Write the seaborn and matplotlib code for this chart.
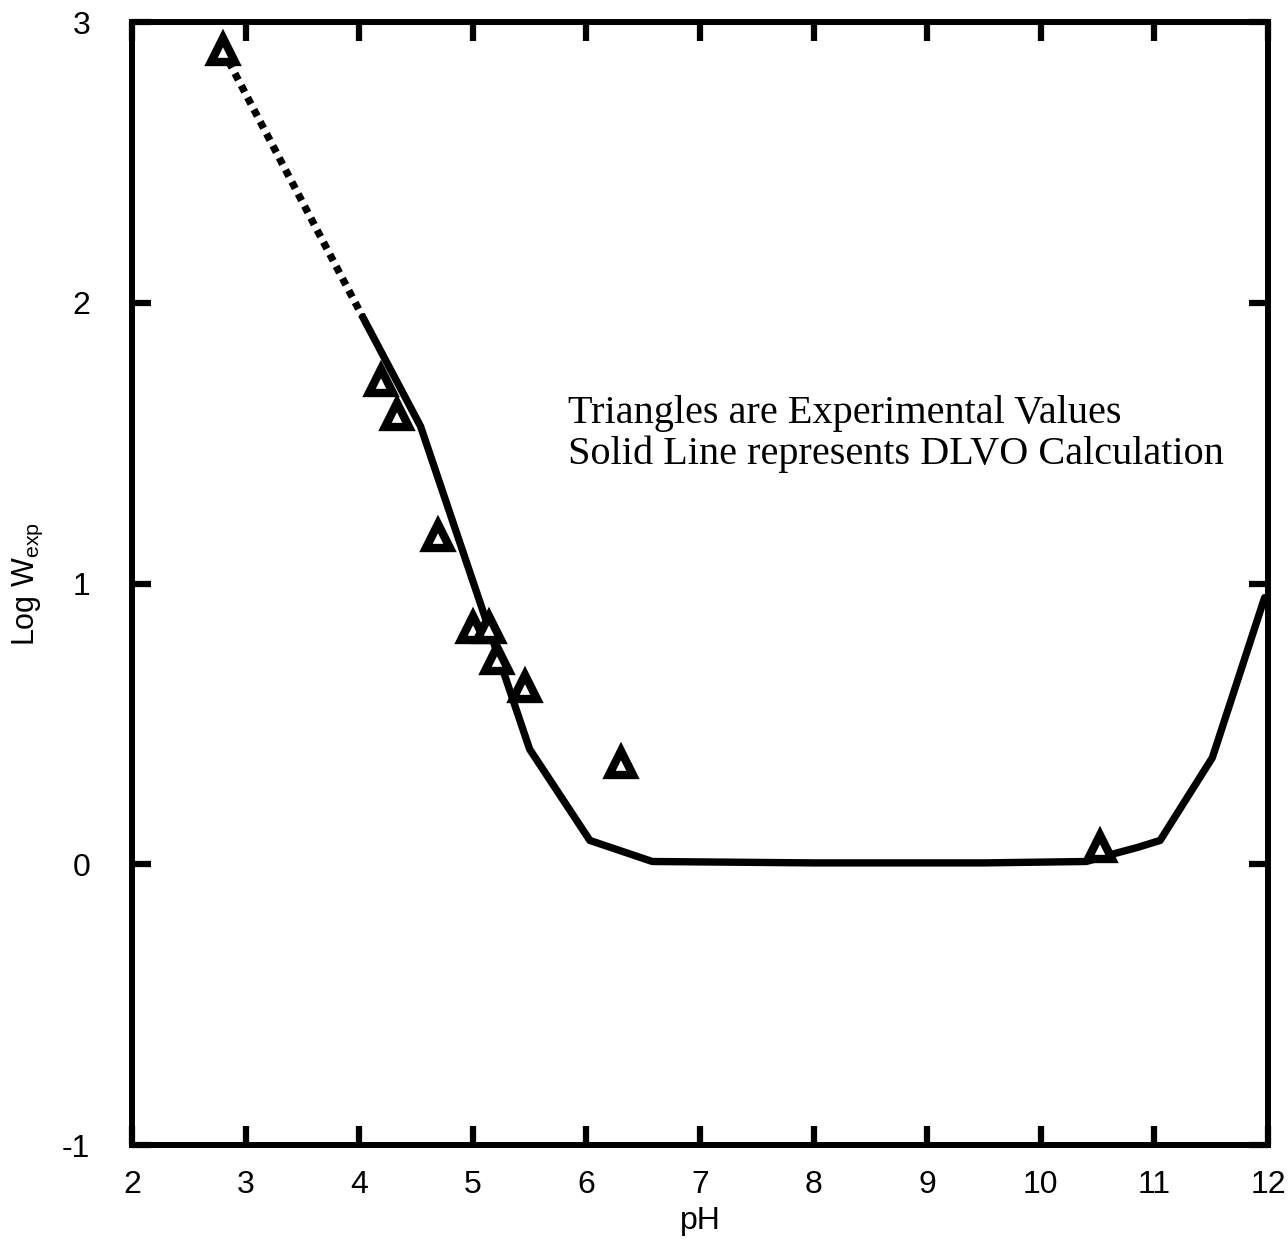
import matplotlib
matplotlib.use("Agg")
import matplotlib.pyplot as plt
import seaborn as sns
import pandas as pd

# Experimental values (triangles)
exp_ph = [2.80, 4.19, 4.33, 4.69, 5.00, 5.14, 5.21, 5.46, 6.30, 10.52]
exp_logw = [2.90, 1.72, 1.60, 1.17, 0.84, 0.84, 0.73, 0.63, 0.36, 0.06]

# DLVO calculation (solid line)
dlvo_ph = [4.03, 4.54, 5.50, 6.03, 6.58, 8.0, 9.5, 10.4, 10.62, 10.85, 11.05, 11.51, 11.97]
dlvo_logw = [1.95, 1.56, 0.41, 0.085, 0.01, 0.005, 0.005, 0.01, 0.035, 0.06, 0.085, 0.38, 0.95]

# Extrapolation (dotted line)
extr_ph = [2.85, 4.03]
extr_logw = [2.86, 1.95]

x_ticks = [2, 3, 4, 5, 6, 7, 8, 9, 10, 11, 12]
y_ticks = [-1, 0, 1, 2, 3]

sns.set_style("white")
plt.rcParams['font.family'] = ['Liberation Sans', 'DejaVu Sans']
plt.rcParams['mathtext.fontset'] = 'custom'
plt.rcParams['mathtext.rm'] = 'Liberation Sans'
plt.rcParams['text.color'] = 'black'
plt.rcParams['axes.labelcolor'] = 'black'

fig = plt.figure(figsize=(12.88, 12.59), dpi=100)
ax = fig.add_axes([0.1025, 0.0905, 0.882, 0.892])

df_line = pd.DataFrame({"pH": dlvo_ph, "logW": dlvo_logw})
df_extr = pd.DataFrame({"pH": extr_ph, "logW": extr_logw})
df_exp = pd.DataFrame({"pH": exp_ph, "logW": exp_logw})

sns.lineplot(data=df_line, x="pH", y="logW", ax=ax, color="black", linewidth=5.3,
             sort=False)
sns.lineplot(data=df_extr, x="pH", y="logW", ax=ax, color="black", linewidth=5.3,
             sort=False)
ax.lines[-1].set_linestyle((0, (1, 0.85)))
ax.lines[-1].set_dash_capstyle("butt")

ax.plot(df_exp["pH"], df_exp["logW"], linestyle="none", marker="^", markersize=17,
        markerfacecolor="white", markeredgecolor="black", markeredgewidth=6, zorder=5)

ax.set_xlim(2, 12)
ax.set_ylim(-1, 3)
ax.set_xticks(x_ticks)
ax.set_yticks(y_ticks)
ax.set_xticklabels([str(t) for t in x_ticks])
ax.set_yticklabels([str(t) for t in y_ticks])

for s in ax.spines.values():
    s.set_linewidth(4.3)
    s.set_color("black")

ax.tick_params(axis="both", which="major", direction="in", length=14, width=4.5,
               top=True, right=True, bottom=True, left=True, labelsize=23,
               colors="black", labelcolor="black")
ax.tick_params(axis="x", pad=18)
ax.tick_params(axis="y", pad=30)

ax.set_xlabel("pH", fontsize=23, labelpad=4, color="black")
ax.set_ylabel(r"Log W$_{\rm exp}$", fontsize=22, labelpad=12, color="black")

ax.text(0.384, 0.598, "Triangles are Experimental Values\nSolid Line represents DLVO Calculation",
        transform=ax.transAxes, fontsize=29, family=["Liberation Serif", "DejaVu Serif"],
        ha="left", va="bottom", linespacing=1.15, color="black")

fig.savefig("out.png", dpi=100)
